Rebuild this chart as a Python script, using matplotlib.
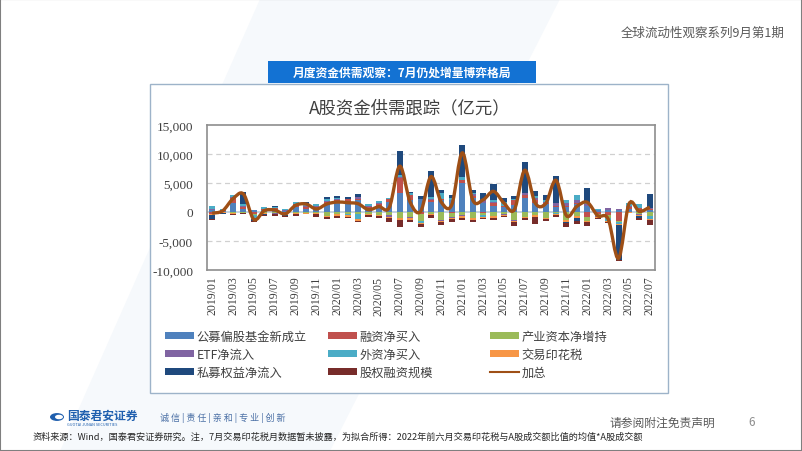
import numpy as np
import matplotlib
matplotlib.use("Agg")
import matplotlib.pyplot as plt
from matplotlib.patches import Rectangle, Circle, PathPatch
from matplotlib.path import Path
from matplotlib.lines import Line2D

plt.rcParams['font.family'] = ['Noto Sans CJK SC', 'DejaVu Sans']

# months 2019/01 .. 2022/07
months = [f"{y}/{m:02d}" for y in range(2019, 2023) for m in range(1, 13)][:43]

# 亿元
gm = [300, 150, 1500, 500, 300, 300, 300, 250, 800, 600, 700, 1300, 1600, 1400, 2000, 700, 1100, 1700, 3300, 2000,
      2200, 1800, 2000, 2000, 5000, 2500, 1500, 1000, 800, 1200, 2500, 1500, 1300, 800, 800, 1300, 1000, 300, 400, 300,
      600, 400, 400]
rz = [-300, 200, 1000, 400, -400, 200, 400, -200, 500, 300, 200, 400, 400, 800, 300, 200, 200, 500, 2600, 1000,
      -300, 300, 300, -200, 500, 300, -200, 500, 300, 800, 500, 600, 200, 300, 200, 200, -900, -300, -500, -1500,
      300, 300, 200]
cy = [-100, -80, -150, -100, -200, -150, -200, -150, -200, -150, -200, -700, -400, -300, -300, -300, -500, -500, -1000, -800,
      -1200, -400, -1300, -600, -500, -1000, -300, -700, -350, -1300, -800, -600, -1000, -200, -1400, -700, -600, -400, -600, -300,
      -50, -400, -700]
etf = [200, 50, 100, 100, 100, 50, -100, 150, 100, 100, 100, 200, 200, 100, 300, 100, 300, -400, 200, -200,
       -100, 200, -200, -200, -200, 300, 500, 300, -100, -200, 200, 300, 200, 500, 500, 500, 300, -100, 300, 200,
       200, -100, 100]
wz = [600, 200, 300, 300, -500, 350, 200, 100, 400, 200, 300, 400, 200, -300, -900, 300, 300, 300, 200, 200,
      -300, 300, 1000, 500, 500, 250, -300, 300, 700, 300, 100, 300, 300, -100, 500, 1000, 300, 200, -400, -200,
      500, 740, -500]
yh = [-120, -150, -200, -150, -130, -120, -130, -150, -130, -120, -130, -200, -230, -250, -270, -180, -170, -200, -400, -300,
      -250, -200, -250, -250, -300, -300, -250, -250, -250, -250, -300, -300, -260, -210, -250, -270, -270, -230, -250, -200,
      -150, -200, -180]
sm = [-700, -100, 0, 2200, -300, -200, 200, -200, 0, 600, -100, 300, 300, 300, 500, -100, -100, 0, 4200, 200,
      500, 4500, 550, 500, 5600, 500, 1300, 2800, 600, 500, 5300, 860, 1000, 4670, -200, -500, 2540, 0, 0, -6000,
      0, -300, 2460]
gq = [-80, -70, -250, -150, -170, -200, -330, -140, -320, -150, -350, -320, -350, -150, -200, -320, -210, -600, -1200, -400,
      -450, -400, -430, -480, -400, -450, -150, -390, -150, -650, -300, -1110, -300, -300, -780, -550, -700, -100, -150, -300,
      -20, -340, -920]

names = ['公募偏股基金新成立', '融资净买入', '产业资本净增持', 'ETF净流入',
         '外资净买入', '交易印花税', '私募权益净流入', '股权融资规模']
series = [gm, rz, cy, etf, wz, yh, sm, gq]
colors = ['#4F81BD', '#C0504D', '#9BBB59', '#8064A2',
          '#4BACC6', '#F79646', '#1F497D', '#772C2A']
line_color = '#9E4F16'

W, H = 802, 452
fig = plt.figure(figsize=(W / 100, H / 100), dpi=100)
fig.patch.set_facecolor('white')

def fx(px):
    return px / W

def fy(py):
    return 1 - py / H

# slide frame and faint decoration
deco = plt.Polygon([(fx(260), fy(0)), (fx(560), fy(0)), (fx(330), fy(452)), (fx(60), fy(452))],
                   closed=True, transform=fig.transFigure, facecolor='#F6F9FC', edgecolor='none', zorder=0)
fig.patches.append(deco)
fig.patches.append(Rectangle((0, 0), 1, 1, transform=fig.transFigure, fill=False,
                             edgecolor='#7F7F7F', linewidth=1.5, zorder=10))

# header
fig.text(fx(785), fy(33), '全球流动性观察系列9月第1期', ha='right', va='center',
         fontsize=9, color='#595959')
fig.patches.append(Rectangle((fx(268), fy(84)), fx(268), 22 / H, transform=fig.transFigure,
                             facecolor='#1372D3', edgecolor='none', zorder=2))
fig.text(fx(402), fy(73), '月度资金供需观察：7月仍处增量博弈格局', ha='center', va='center',
         fontsize=8.5, color='white', fontweight='bold', zorder=3)

# chart image box
fig.patches.append(Rectangle((fx(150), fy(394)), fx(518), 309 / H, transform=fig.transFigure,
                             facecolor='white', edgecolor='#9DB3C9', linewidth=1, zorder=1))
fig.text(fx(410), fy(108), 'A股资金供需跟踪（亿元）', ha='center', va='center',
         fontsize=12.5, color='#404040', zorder=3)

ax = fig.add_axes([fx(207), fy(271), fx(448), 145 / H])
ax.set_zorder(3)
x = np.arange(len(months))
pos_bottom = np.zeros(len(x))
neg_bottom = np.zeros(len(x))
for vals, name, c in zip(series, names, colors):
    v = np.array(vals, dtype=float)
    bottom = np.where(v >= 0, pos_bottom, neg_bottom)
    ax.bar(x, v, bottom=bottom, width=0.58, color=c, label=name, zorder=3)
    pos_bottom += np.where(v > 0, v, 0)
    neg_bottom += np.where(v < 0, v, 0)

total = np.sum(np.array(series, dtype=float), axis=0)

# smoothed total line (Excel-style smoothing)
pts = np.column_stack([x, total])
verts = [pts[0]]
codes = [Path.MOVETO]
for i in range(len(pts) - 1):
    p0 = pts[i - 1] if i > 0 else pts[i]
    p1, p2 = pts[i], pts[i + 1]
    p3 = pts[i + 2] if i + 2 < len(pts) else pts[i + 1]
    c1 = p1 + (p2 - p0) / 6
    c2 = p2 - (p3 - p1) / 6
    verts += [c1, c2, p2]
    codes += [Path.CURVE4] * 3
ax.add_patch(PathPatch(Path(verts, codes), facecolor='none', edgecolor=line_color,
                       linewidth=2.4, zorder=5))

ax.set_xlim(-0.5, len(x) - 0.5)
ax.set_ylim(-10000, 15000)
ax.set_yticks(np.arange(-10000, 15001, 5000))
ax.set_yticklabels([f"{v:,}" for v in range(-10000, 15001, 5000)],
                   fontfamily='Liberation Serif', fontsize=9.5, color='#404040')
ax.set_xticks(x[::2])
ax.set_xticklabels(months[::2], rotation=90, fontfamily='Liberation Serif',
                   fontsize=8.5, color='#404040')
ax.tick_params(length=0, pad=4)
ax.tick_params(axis='y', pad=10)
for yv in [-5000, 5000, 10000]:
    ax.axhline(yv, color='#D0D0D0', linestyle=(0, (4, 3)), linewidth=0.9, zorder=1)
ax.axhline(0, color='#C5D3E0', linewidth=1.4, zorder=2)
for s in ax.spines.values():
    s.set_color('#8E8E8E')
    s.set_linewidth(1.2)

# legend, three columns laid out row-wise like the original
handles = [Rectangle((0, 0), 1, 1, facecolor=c, edgecolor='none') for c in colors]
handles.append(Line2D([0], [0], color=line_color, linewidth=1.5))
labels = names + ['加总']
cols = [[0, 3, 6], [1, 4, 7], [2, 5, 8]]
col_x = [165, 328, 490]
for cx, idx in zip(col_x, cols):
    leg = fig.legend([handles[i] for i in idx], [labels[i] for i in idx],
                     loc='upper left', bbox_to_anchor=(fx(cx), fy(331)),
                     frameon=False, fontsize=8.8, handlelength=2.4, handleheight=0.45,
                     handletextpad=0.2, labelspacing=0.4, borderaxespad=0, borderpad=0)
    for t in leg.get_texts():
        t.set_color('#404040')

# footer
fig.patches.append(Circle((fx(57), fy(418)), 7 / W, transform=fig.transFigure,
                          facecolor='#1F5FAE', edgecolor='none'))
fig.patches.append(Circle((fx(59), fy(418)), 4 / W, transform=fig.transFigure,
                          facecolor='white', edgecolor='none'))
fig.text(fx(67), fy(416), '国泰君安证券', ha='left', va='center', fontsize=8.5,
         color='#1F5FAE', fontweight='bold')
fig.text(fx(67), fy(425), 'GUOTAI JUNAN SECURITIES', ha='left', va='center', fontsize=2.8,
         color='#1F5FAE')
fig.text(fx(160), fy(418), '诚 信 | 责 任 | 亲 和 | 专 业 | 创 新', ha='left', va='center',
         fontsize=6.5, color='#4A6FA5')
fig.text(fx(662), fy(423), '请参阅附注免责声明', ha='center', va='center', fontsize=8.5,
         color='#595959')
fig.text(fx(752), fy(423), '6', ha='center', va='center', fontsize=8.5, color='#8C8C8C')
fig.text(fx(33), fy(437), '资料来源：Wind，国泰君安证券研究。注，7月交易印花税月数据暂未披露，为拟合所得：'
         '2022年前六月交易印花税与A股成交额比值的均值*A股成交额',
         ha='left', va='center', fontsize=6.6, color='#262626')

fig.savefig('out.png', dpi=100)
